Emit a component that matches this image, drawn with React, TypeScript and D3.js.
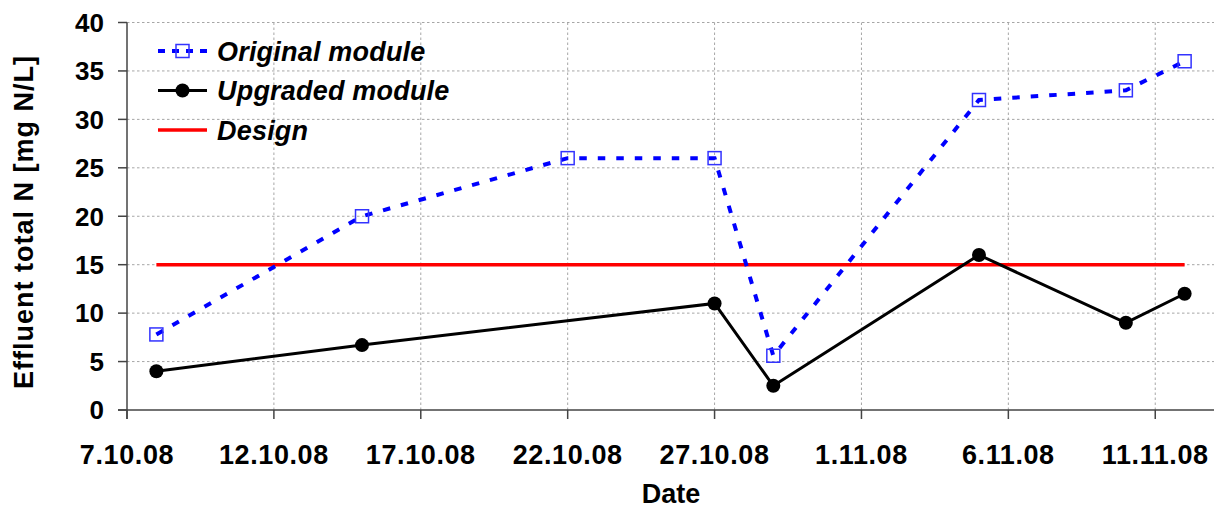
import React from "react";
import * as d3 from "d3";

// Sampling dates and measured effluent total nitrogen [mg N/L]
const originalDates = ["2008-10-08", "2008-10-15", "2008-10-22", "2008-10-27", "2008-10-29", "2008-11-05", "2008-11-10", "2008-11-12"];
const originalValues = [7.8, 20, 26, 26, 5.6, 32, 33, 36];

const upgradedDates = ["2008-10-08", "2008-10-15", "2008-10-27", "2008-10-29", "2008-11-05", "2008-11-10", "2008-11-12"];
const upgradedValues = [4, 6.7, 11, 2.5, 16, 9, 12];

const designDates = ["2008-10-08", "2008-11-12"];
const designValues = [15, 15];

const xTickDates = ["2008-10-07", "2008-10-12", "2008-10-17", "2008-10-22", "2008-10-27", "2008-11-01", "2008-11-06", "2008-11-11"];
const yTicks = [0, 5, 10, 15, 20, 25, 30, 35, 40];

const legendItems = ["Original module", "Upgraded module", "Design"];

const parse = (s: string) => new Date(s + "T00:00:00Z");
const fmtTick = (d: Date) => `${d.getUTCDate()}.${d.getUTCMonth() + 1}.08`;

const W = 1223;
const H = 512;
const left = 127;
const right = 1214;
const top = 22.5;
const bottom = 410;
const FONT = "'Liberation Sans', Arial, Helvetica, sans-serif";

export default function App() {
  const x = d3.scaleUtc().domain([parse("2008-10-07"), parse("2008-11-13")]).range([left, right]);
  const y = d3.scaleLinear().domain([0, 40]).range([bottom, top]);

  const line = d3
    .line<[Date, number]>()
    .x((d) => x(d[0]))
    .y((d) => y(d[1]));

  const orig: [Date, number][] = originalDates.map((d, i) => [parse(d), originalValues[i]]);
  const upg: [Date, number][] = upgradedDates.map((d, i) => [parse(d), upgradedValues[i]]);
  const des: [Date, number][] = designDates.map((d, i) => [parse(d), designValues[i]]);

  const blueDash = "7.5 11";
  const legendY = [51, 90.5, 130];
  const lx0 = 158;
  const lx1 = 207;

  return (
    <svg width={W} height={H} style={{ position: "absolute", left: 0, top: 0, background: "#fff" }} fontFamily={FONT}>
      {/* grid */}
      <g stroke="#a6a6a6" strokeWidth={1} strokeDasharray="2.5 2.5">
        {yTicks.filter((t) => t > 0).map((t) => (
          <line key={"gy" + t} x1={left} x2={right} y1={y(t)} y2={y(t)} />
        ))}
        {xTickDates.slice(1).map((d) => (
          <line key={"gx" + d} x1={x(parse(d))} x2={x(parse(d))} y1={top} y2={bottom} />
        ))}
      </g>

      {/* axes */}
      <g stroke="#444" strokeWidth={1.5}>
        <line x1={left} x2={left} y1={top} y2={bottom + 9} />
        <line x1={left - 9} x2={right} y1={bottom} y2={bottom} />
        {yTicks.map((t) => (
          <line key={"ty" + t} x1={left - 9} x2={left} y1={y(t)} y2={y(t)} />
        ))}
        {xTickDates.map((d) => (
          <line key={"tx" + d} x1={x(parse(d))} x2={x(parse(d))} y1={bottom} y2={bottom + 9} />
        ))}
      </g>

      {/* tick labels */}
      <g fontSize={26} fontWeight="bold" fill="#000">
        {yTicks.map((t) => (
          <text key={"ly" + t} x={104} y={y(t)} dy="0.36em" textAnchor="end">
            {t}
          </text>
        ))}
      </g>
      <g fontSize={27} fontWeight="bold" fill="#000" letterSpacing={0.6}>
        {xTickDates.map((d) => (
          <text key={"lx" + d} x={x(parse(d))} y={464} textAnchor="middle">
            {fmtTick(parse(d))}
          </text>
        ))}
      </g>

      {/* axis titles */}
      <text x={671} y={503} textAnchor="middle" fontSize={27} fontWeight="bold">
        Date
      </text>
      <text transform={`translate(33,222) rotate(-90)`} textAnchor="middle" fontSize={27} fontWeight="bold" letterSpacing={1}>
        Effluent total N [mg N/L]
      </text>

      {/* series */}
      <path d={line(des) || ""} fill="none" stroke="#ff0000" strokeWidth={3.5} />
      <path d={line(orig) || ""} fill="none" stroke="#0000ff" strokeWidth={4} strokeDasharray={blueDash} />
      {orig.map((d, i) => (
        <rect key={"o" + i} x={x(d[0]) - 6.5} y={y(d[1]) - 6.5} width={13} height={13} fill="none" stroke="#3333ff" strokeWidth={1.5} />
      ))}
      <path d={line(upg) || ""} fill="none" stroke="#000" strokeWidth={3} />
      {upg.map((d, i) => (
        <circle key={"u" + i} cx={x(d[0])} cy={y(d[1])} r={7} fill="#000" />
      ))}

      {/* legend */}
      <g>
        <line x1={lx0} x2={lx1} y1={legendY[0]} y2={legendY[0]} stroke="#0000ff" strokeWidth={4} strokeDasharray="7 7" />
        <rect x={(lx0 + lx1) / 2 - 6.5} y={legendY[0] - 6.5} width={13} height={13} fill="none" stroke="#3333ff" strokeWidth={1.5} />
        <line x1={lx0} x2={lx1} y1={legendY[1]} y2={legendY[1]} stroke="#000" strokeWidth={3} />
        <circle cx={(lx0 + lx1) / 2} cy={legendY[1]} r={7} fill="#000" />
        <line x1={lx0} x2={lx1} y1={legendY[2]} y2={legendY[2]} stroke="#ff0000" strokeWidth={3.5} />
        {legendItems.map((t, i) => (
          <text key={t} x={217} y={legendY[i]} dy="0.36em" fontSize={27} fontWeight="bold" fontStyle="italic" letterSpacing={0.2}>
            {t}
          </text>
        ))}
      </g>
    </svg>
  );
}
